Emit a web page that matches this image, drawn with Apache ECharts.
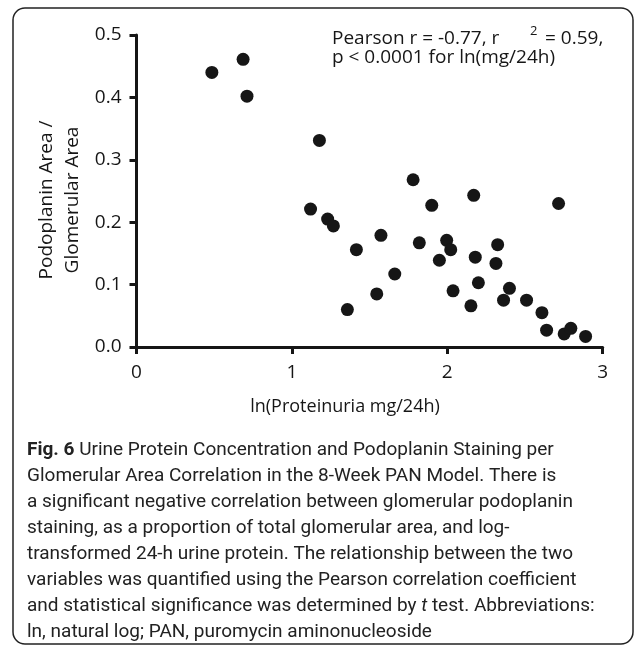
<!DOCTYPE html>
<html>
<head>
<meta charset="utf-8">
<script src="https://cdn.jsdelivr.net/npm/echarts@6/dist/echarts.min.js"></script>
<style>
  html, body { margin: 0; padding: 0; background: #fff; }
  #chart { width: 634px; height: 645px; }
</style>
</head>
<body>
<div id="chart"></div>
<script>
// ln(proteinuria mg/24h) vs podoplanin area / glomerular area
const lnProtein = [0.485, 0.686, 0.711, 1.120, 1.177, 1.230, 1.267, 1.357, 1.415, 1.546, 1.573, 1.662,
  1.780, 1.820, 1.900, 1.949, 1.996, 2.022, 2.037, 2.152, 2.170, 2.180, 2.200, 2.313, 2.324, 2.362,
  2.400, 2.510, 2.609, 2.639, 2.716, 2.752, 2.795, 2.890];
const podoRatio = [0.440, 0.461, 0.402, 0.221, 0.331, 0.205, 0.194, 0.060, 0.156, 0.085, 0.179, 0.117,
  0.268, 0.167, 0.227, 0.139, 0.171, 0.156, 0.090, 0.066, 0.243, 0.144, 0.103, 0.134, 0.164, 0.075,
  0.094, 0.075, 0.055, 0.027, 0.230, 0.021, 0.030, 0.017];
const xTicks = [0, 1, 2, 3];
const yTicks = [0.0, 0.1, 0.2, 0.3, 0.4, 0.5];

const captionLines = [
  '{b|Fig. 6} Urine Protein Concentration and Podoplanin Staining per',
  'Glomerular Area Correlation in the 8-Week PAN Model. There is',
  'a significant negative correlation between glomerular podoplanin',
  'staining, as a proportion of total glomerular area, and log-',
  'transformed 24-h urine protein. The relationship between the two',
  'variables was quantified using the Pearson correlation coefficient',
  'and statistical significance was determined by {i|t} test. Abbreviations:',
  'ln, natural log; PAN, puromycin aminonucleoside'
];

const points = lnProtein.map((x, i) => [x, podoRatio[i]]);
const ink = '#161616';
const font = 'Open Sans';
const capFont = 'Roboto';

const graphics = [
  {
    type: 'rect',
    shape: { x: 13, y: 8, width: 620, height: 636, r: 12 },
    style: { fill: null, stroke: '#222', lineWidth: 1.5 }
  },
  {
    type: 'text', x: 332, y: 39,
    style: { text: 'Pearson r = -0.77, r', font: '19px ' + font, fill: ink, verticalAlign: 'middle' }
  },
  {
    type: 'text', x: 530, y: 31,
    style: { text: '2', font: '13px ' + font, fill: ink, verticalAlign: 'middle' }
  },
  {
    type: 'text', x: 545, y: 39,
    style: { text: '= 0.59,', font: '19px ' + font, fill: ink, verticalAlign: 'middle' }
  },
  {
    type: 'text', x: 332, y: 58,
    style: { text: 'p < 0.0001 for ln(mg/24h)', font: '19px ' + font, fill: ink, verticalAlign: 'middle' }
  },
  {
    type: 'text', x: 345, y: 407,
    style: { text: 'ln(Proteinuria mg/24h)', font: '18px ' + font, fill: ink, align: 'center', verticalAlign: 'middle' }
  },
  {
    type: 'text', x: 47, y: 200, rotation: Math.PI / 2,
    style: { text: 'Podoplanin Area /', font: '19px ' + font, fill: ink, align: 'center', verticalAlign: 'middle' }
  },
  {
    type: 'text', x: 73, y: 200, rotation: Math.PI / 2,
    style: { text: 'Glomerular Area', font: '19px ' + font, fill: ink, align: 'center', verticalAlign: 'middle' }
  }
];

captionLines.forEach((line, i) => {
  graphics.push({
    type: 'text', x: 27, y: 450 + i * 26,
    style: {
      text: line,
      font: '19px ' + capFont,
      fill: '#222',
      verticalAlign: 'middle',
      rich: {
        b: { fontWeight: 'bold', fontSize: 19, fontFamily: capFont, fill: '#222' },
        i: { fontStyle: 'italic', fontSize: 19, fontFamily: capFont, fill: '#222' }
      }
    }
  });
});

const option = {
  backgroundColor: '#fff',
  animation: false,
  grid: { left: 136.5, right: 31.3, top: 35, bottom: 298 },
  xAxis: {
    type: 'value',
    min: xTicks[0],
    max: xTicks[xTicks.length - 1],
    interval: 1,
    splitLine: { show: false },
    axisLine: { show: true, onZero: false, lineStyle: { color: ink, width: 3 } },
    axisTick: { show: true, length: 7, lineStyle: { color: ink, width: 3 } },
    axisLabel: { color: ink, fontSize: 19, fontFamily: font, margin: 16 }
  },
  yAxis: {
    type: 'value',
    min: yTicks[0],
    max: yTicks[yTicks.length - 1],
    interval: 0.1,
    splitLine: { show: false },
    axisLine: { show: true, onZero: false, lineStyle: { color: ink, width: 3 } },
    axisTick: { show: true, length: 7, lineStyle: { color: ink, width: 3 } },
    axisLabel: { color: ink, fontSize: 19, fontFamily: font, margin: 15, formatter: v => v.toFixed(1) }
  },
  series: [
    {
      type: 'scatter',
      data: points,
      symbol: 'circle',
      symbolSize: 13,
      itemStyle: { color: ink, opacity: 1 }
    }
  ],
  graphic: graphics
};

const myChart = echarts.init(document.getElementById('chart'));
myChart.setOption(option);
</script>
</body>
</html>
